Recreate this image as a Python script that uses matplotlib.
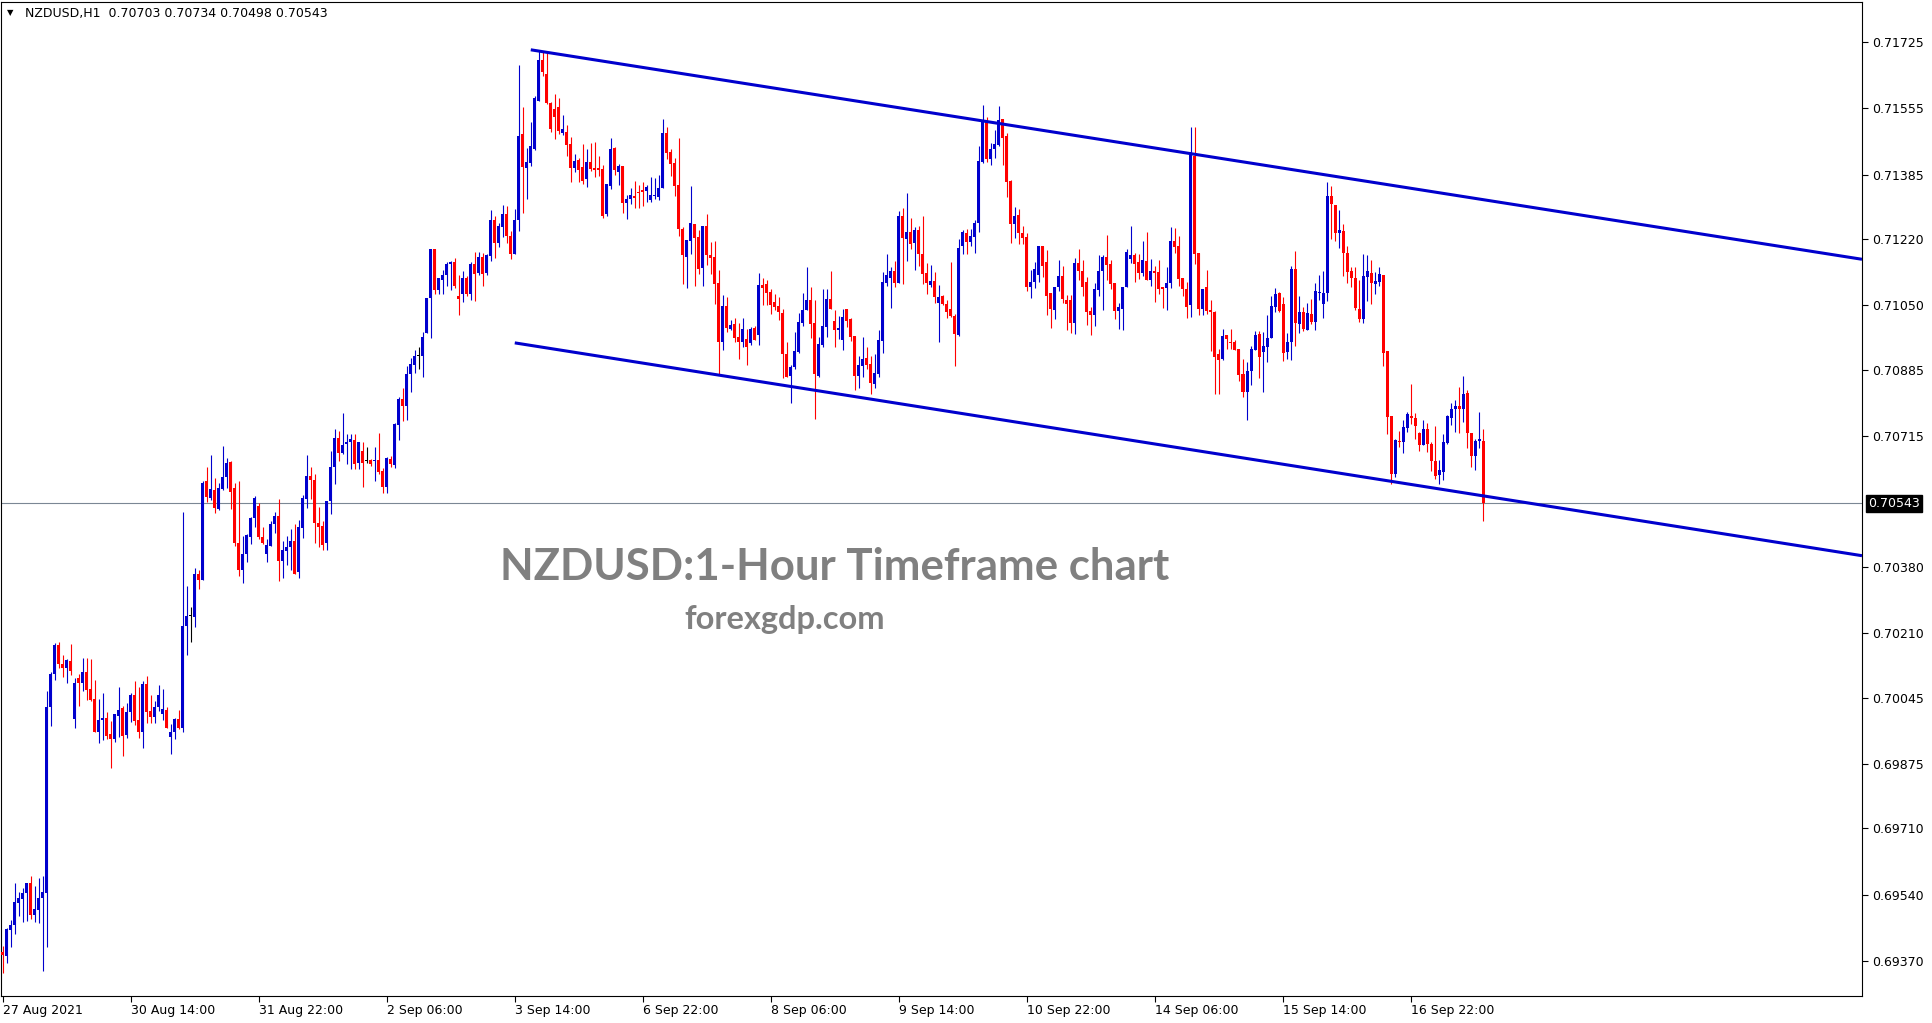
import numpy as np
import pandas as pd
import matplotlib
matplotlib.use("Agg")
import matplotlib.pyplot as plt
import matplotlib.transforms as mtransforms

# ---------------------------------------------------------------------------
# Chart data -- NZDUSD H1, prices in points (1 point = 0.00001)
# ---------------------------------------------------------------------------
symbol = "NZDUSD,H1"
first_bar = "2021-08-27 06:00"

opens = [
    69393, 69384, 69449, 69462, 69518, 69530, 69544, 69571, 69489, 69501,
    69532, 69544, 70020, 70105, 70179, 70131, 70121, 70139, 69990, 70094,
    70082, 70110, 70068, 70041, 69957, 69987, 69992, 69951, 69939, 69998,
    70018, 69949, 70009, 70052, 69987, 69958, 70079, 70010, 69995, 70020,
    70003, 70013, 69944, 69958, 69989, 69968, 70228, 70253, 70252, 70361,
    70346, 70599, 70556, 70576, 70528, 70579, 70609, 70648, 70582, 70442,
    70372, 70414, 70456, 70504, 70535, 70456, 70413, 70433, 70490, 70510,
    70395, 70421, 70431, 70446, 70367, 70480, 70555, 70612, 70602, 70493,
    70484, 70442, 70548, 70636, 70709, 70673, 70694, 70700, 70705, 70647,
    70678, 70652, 70654, 70650, 70654, 70625, 70584, 70656, 70640, 70743,
    70811, 70792, 70873, 70898, 70921, 70921, 70979, 71070, 71194, 71089,
    71115, 71127, 71156, 71162, 71074, 71080, 71120, 71079, 71156, 71133,
    71175, 71133, 71176, 71270, 71209, 71251, 71284, 71229, 71182, 71270,
    71489, 71401, 71416, 71452, 71575, 71679, 71644, 71568, 71553, 71558,
    71493, 71494, 71463, 71401, 71422, 71405, 71374, 71418, 71401, 71401,
    71399, 71284, 71357, 71453, 71392, 71406, 71313, 71322, 71330, 71341,
    71346, 71344, 71319, 71330, 71328, 71352, 71493, 71444, 71414, 71359,
    71246, 71175, 71216, 71259, 71226, 71147, 71254, 71179, 71175, 71108,
    70955, 71048, 70990, 71002, 70970, 70955, 70965, 70953, 70991, 70974,
    71102, 71105, 71085, 71060, 71049, 71031, 70926, 70870, 70891, 70931,
    71004, 71037, 71064, 71004, 70870, 70949, 70995, 71066, 71010, 70987,
    70961, 71041, 71015, 70972, 70870, 70895, 70914, 70900, 70849, 70874,
    70960, 71108, 71121, 71138, 71108, 71279, 71220, 71237, 71209, 71243,
    71183, 71134, 71102, 71113, 71055, 71074, 71053, 71041, 71024, 70974,
    71201, 71236, 71213, 71226, 71260, 71418, 71519, 71425, 71450, 71461,
    71527, 71484, 71370, 71258, 71281, 71235, 71225, 71098, 71111, 71129,
    71202, 71161, 71081, 71038, 71096, 71126, 71064, 71064, 71004, 71158,
    71139, 71110, 71036, 71026, 71090, 71137, 71175, 71156, 71107, 71036,
    71041, 71096, 71169, 71179, 71162, 71132, 71165, 71115, 71138, 71135,
    71096, 71094, 71107, 71214, 71202, 71120, 71092, 71050, 71434, 71184,
    71041, 71096, 71038, 71034, 70926, 70913, 70974, 70957, 70957, 70939,
    70874, 70827, 70882, 70936, 70976, 70930, 70943, 70966, 71047, 71081,
    71054, 70930, 70956, 71143, 71003, 71032, 70987, 71028, 71007, 71081,
    71054, 71083, 71330, 71307, 71236, 71241, 71185, 71138, 71121, 71041,
    71015, 71124, 71132, 71104, 71111, 71128, 70933, 70767, 70618, 70703,
    70701, 70737, 70767, 70761, 70724, 70692, 70732, 70695, 70651, 70615,
    70624, 70697, 70762, 70784, 70792, 70785, 70826, 70722, 70665, 70703,
    70703,
]

highs = [
    69409, 69454, 69475, 69570, 69548, 69557, 69571, 69587, 69561, 69582,
    69587, 70062, 70111, 70185, 70187, 70154, 70144, 70182, 70094, 70106,
    70146, 70146, 70144, 70090, 70041, 70057, 70008, 69984, 70002, 70072,
    70024, 70030, 70057, 70088, 70072, 70087, 70100, 70052, 70037, 70077,
    70066, 70020, 69977, 69992, 70012, 70520, 70332, 70276, 70377, 70372,
    70600, 70637, 70667, 70607, 70595, 70689, 70660, 70651, 70595, 70600,
    70458, 70463, 70509, 70561, 70543, 70483, 70452, 70497, 70520, 70554,
    70446, 70459, 70476, 70489, 70500, 70565, 70667, 70637, 70618, 70534,
    70497, 70548, 70677, 70734, 70729, 70774, 70720, 70720, 70720, 70699,
    70700, 70687, 70656, 70687, 70723, 70634, 70662, 70663, 70749, 70815,
    70839, 70895, 70915, 70935, 70944, 70983, 71070, 71195, 71195, 71120,
    71140, 71162, 71164, 71171, 71129, 71138, 71126, 71160, 71188, 71188,
    71184, 71182, 71294, 71279, 71262, 71308, 71306, 71240, 71297, 71665,
    71558, 71453, 71520, 71586, 71703, 71699, 71696, 71571, 71593, 71582,
    71537, 71513, 71481, 71437, 71427, 71463, 71452, 71465, 71468, 71434,
    71409, 71361, 71480, 71456, 71412, 71407, 71332, 71350, 71369, 71359,
    71366, 71359, 71378, 71377, 71385, 71527, 71506, 71450, 71427, 71480,
    71252, 71218, 71356, 71259, 71243, 71254, 71284, 71213, 71215, 71141,
    71077, 71072, 71013, 71017, 71004, 71017, 70990, 70994, 70996, 71134,
    71119, 71115, 71091, 71079, 71072, 71040, 70957, 70897, 70981, 71031,
    71081, 71149, 71098, 71064, 70970, 71091, 71091, 71138, 71038, 71023,
    71041, 71041, 71017, 70972, 70920, 70968, 70943, 70920, 70925, 70987,
    71136, 71181, 71149, 71164, 71292, 71300, 71337, 71275, 71252, 71253,
    71279, 71158, 71154, 71136, 71102, 71077, 71064, 71160, 71028, 71219,
    71243, 71245, 71245, 71269, 71458, 71564, 71532, 71466, 71500, 71560,
    71527, 71493, 71372, 71303, 71297, 71254, 71235, 71141, 71160, 71202,
    71202, 71192, 71083, 71098, 71167, 71150, 71077, 71077, 71171, 71195,
    71167, 71124, 71047, 71107, 71179, 71178, 71231, 71167, 71107, 71057,
    71098, 71194, 71254, 71184, 71182, 71215, 71238, 71169, 71150, 71167,
    71098, 71148, 71250, 71248, 71229, 71120, 71109, 71506, 71508, 71184,
    71092, 71141, 71064, 71036, 70938, 70989, 70974, 70989, 70962, 70939,
    70912, 70904, 70945, 70985, 70985, 70983, 71026, 71074, 71094, 71084,
    71071, 70980, 71151, 71190, 71073, 71047, 71056, 71066, 71107, 71128,
    71137, 71365, 71357, 71307, 71295, 71258, 71202, 71148, 71148, 71115,
    71182, 71179, 71166, 71136, 71148, 71128, 70933, 70767, 70707, 70728,
    70756, 70778, 70849, 70775, 70725, 70756, 70748, 70701, 70741, 70654,
    70720, 70769, 70799, 70808, 70842, 70869, 70832, 70722, 70707, 70778,
    70734,
]

lows = [
    69339, 69365, 69407, 69439, 69486, 69470, 69472, 69477, 69470, 69467,
    69344, 69405, 69973, 70091, 70122, 70098, 70083, 70102, 69968, 70023,
    70062, 70040, 70036, 69957, 69929, 69936, 69938, 69865, 69931, 69945,
    69896, 69942, 69982, 69975, 69942, 69917, 69980, 69981, 69981, 70010,
    69988, 69968, 69900, 69939, 69965, 69958, 70155, 70187, 70227, 70324,
    70346, 70546, 70551, 70518, 70525, 70576, 70582, 70529, 70433, 70357,
    70339, 70393, 70439, 70483, 70451, 70439, 70393, 70433, 70467, 70344,
    70351, 70385, 70372, 70362, 70352, 70453, 70532, 70555, 70442, 70430,
    70422, 70422, 70516, 70592, 70650, 70670, 70643, 70630, 70632, 70630,
    70584, 70647, 70639, 70601, 70617, 70568, 70570, 70637, 70634, 70705,
    70754, 70756, 70829, 70877, 70886, 70867, 70979, 70966, 71078, 71078,
    71078, 71100, 71089, 71094, 71026, 71058, 71074, 71065, 71061, 71129,
    71100, 71129, 71164, 71171, 71200, 71226, 71210, 71169, 71182, 71240,
    71286, 71322, 71407, 71447, 71573, 71639, 71565, 71494, 71476, 71490,
    71487, 71434, 71367, 71392, 71366, 71361, 71353, 71394, 71378, 71381,
    71275, 71279, 71348, 71385, 71359, 71286, 71272, 71310, 71300, 71300,
    71306, 71315, 71315, 71323, 71319, 71352, 71425, 71382, 71330, 71229,
    71105, 71095, 71182, 71101, 71130, 71100, 71154, 71130, 71054, 70872,
    70936, 70983, 70987, 70955, 70912, 70944, 70897, 70949, 70961, 70949,
    71051, 71051, 71027, 71038, 71013, 70863, 70867, 70801, 70887, 70929,
    70997, 71037, 70966, 70758, 70866, 70944, 70970, 71041, 70944, 70963,
    70937, 70995, 70960, 70832, 70839, 70867, 70886, 70823, 70838, 70867,
    70927, 71100, 71044, 71098, 71107, 71104, 71165, 71195, 71141, 71151,
    71105, 71080, 71096, 71055, 70957, 71051, 71017, 71021, 70895, 70972,
    71182, 71181, 71201, 71185, 71239, 71416, 71417, 71410, 71427, 71458,
    71410, 71329, 71211, 71224, 71208, 71208, 71087, 71070, 71094, 71111,
    71124, 71026, 70993, 71015, 71088, 71056, 70987, 70980, 70976, 71115,
    71075, 71000, 70973, 70998, 71074, 71038, 71115, 71092, 71015, 70990,
    70986, 71096, 71158, 71109, 71117, 71126, 71115, 71100, 71060, 71079,
    71044, 71038, 71094, 71184, 71101, 71075, 71017, 71020, 71156, 71025,
    71025, 71028, 70932, 70822, 70822, 70910, 70939, 70938, 70936, 70857,
    70816, 70757, 70846, 70936, 70863, 70827, 70906, 70966, 71034, 71034,
    70908, 70912, 70909, 70945, 70980, 70985, 70986, 71002, 70986, 71064,
    71017, 71062, 71219, 71216, 71198, 71126, 71107, 71098, 71038, 71008,
    71006, 71062, 71054, 71078, 71101, 70896, 70720, 70592, 70611, 70688,
    70673, 70726, 70745, 70707, 70678, 70691, 70674, 70626, 70604, 70592,
    70603, 70695, 70744, 70726, 70724, 70750, 70685, 70637, 70628, 70684,
    70498,
]

closes = [
    69386, 69451, 69463, 69520, 69532, 69545, 69571, 69487, 69502, 69532,
    69547, 70020, 70105, 70179, 70132, 70122, 70141, 70113, 70082, 70082,
    70110, 70065, 70038, 69957, 69987, 69992, 69947, 69939, 70002, 70014,
    69947, 70009, 70052, 69984, 69958, 70080, 70009, 69994, 70020, 70052,
    70015, 69968, 69958, 69989, 69968, 70228, 70253, 70253, 70361, 70346,
    70596, 70558, 70579, 70530, 70582, 70610, 70646, 70572, 70442, 70372,
    70414, 70461, 70504, 70556, 70456, 70441, 70435, 70491, 70510, 70395,
    70422, 70431, 70446, 70362, 70481, 70556, 70612, 70602, 70493, 70483,
    70436, 70548, 70636, 70711, 70673, 70693, 70700, 70708, 70643, 70699,
    70647, 70652, 70643, 70654, 70624, 70584, 70658, 70643, 70745, 70811,
    70792, 70875, 70899, 70921, 70921, 70968, 71070, 71194, 71089, 71120,
    71129, 71156, 71162, 71100, 71067, 71119, 71079, 71157, 71131, 71173,
    71131, 71180, 71268, 71209, 71253, 71285, 71228, 71182, 71270, 71485,
    71405, 71417, 71458, 71582, 71679, 71649, 71568, 71503, 71534, 71498,
    71502, 71460, 71401, 71421, 71397, 71368, 71418, 71400, 71398, 71398,
    71279, 71361, 71450, 71396, 71407, 71313, 71322, 71334, 71326, 71337,
    71341, 71353, 71332, 71332, 71352, 71493, 71441, 71412, 71356, 71246,
    71178, 71218, 71260, 71224, 71143, 71254, 71178, 71172, 71105, 70957,
    71048, 70991, 71000, 70967, 70957, 70990, 70944, 70990, 70961, 71102,
    71095, 71083, 71051, 71047, 71034, 70926, 70867, 70893, 70933, 71008,
    71038, 71064, 71002, 70874, 70951, 70997, 71066, 71041, 70987, 70993,
    71021, 71010, 70968, 70870, 70897, 70913, 70897, 70850, 70876, 70961,
    71109, 71128, 71138, 71108, 71279, 71222, 71237, 71207, 71243, 71183,
    71131, 71107, 71113, 71072, 71071, 71054, 71034, 71023, 70977, 71198,
    71237, 71213, 71229, 71262, 71420, 71525, 71425, 71451, 71464, 71525,
    71480, 71367, 71259, 71279, 71235, 71224, 71096, 71111, 71143, 71202,
    71152, 71075, 71040, 71098, 71126, 71067, 71054, 71004, 71158, 71139,
    71098, 71034, 71026, 71092, 71138, 71173, 71154, 71104, 71036, 71047,
    71098, 71188, 71179, 71156, 71132, 71167, 71115, 71138, 71132, 71092,
    71091, 71107, 71214, 71199, 71118, 71092, 71047, 71443, 71182, 71042,
    71092, 71036, 71032, 70917, 70909, 70972, 70964, 70953, 70936, 70872,
    70829, 70882, 70939, 70974, 70919, 70945, 70966, 71049, 71080, 71036,
    70929, 70956, 71144, 71004, 71034, 70990, 71030, 71007, 71087, 71085,
    71083, 71330, 71309, 71236, 71243, 71185, 71136, 71119, 71044, 71015,
    71125, 71138, 71107, 71113, 71130, 70927, 70765, 70618, 70705, 70701,
    70738, 70772, 70761, 70742, 70691, 70732, 70695, 70650, 70614, 70628,
    70699, 70767, 70785, 70791, 70784, 70823, 70722, 70665, 70703, 70707,
    70543,
]

# price scale labels as printed on the MT4 axis
price_ticks = [0.71725, 0.71555, 0.71385, 0.71220, 0.71050, 0.70885, 0.70715,
               0.70380, 0.70210, 0.70045, 0.69875, 0.69710, 0.69540, 0.69370]
label_every = 32          # bars between time labels

# channel trend lines: (bar index, price) anchors, drawn as rays to the right
upper_channel = [(132, 0.71705), (370, 0.71321)]
lower_channel = [(128, 0.70954), (370, 0.70562)]

title_text = "NZDUSD:1-Hour Timeframe chart"
site_text = "forexgdp.com"

# ---------------------------------------------------------------------------
# Styling
# ---------------------------------------------------------------------------
BULL = "#0000CD"
BEAR = "#FF0000"
DOJI = "#000000"
CHANNEL = "#0000CD"
PRICE_LINE = "#7b8794"
WATERMARK = "#808080"

W, H = 1933, 1023
fig = plt.figure(figsize=(W / 100, H / 100), dpi=100, facecolor="white")
ax = fig.add_axes([1 / W, 27 / H, 1861 / W, 994 / H])

o = np.array(opens) / 1e5
h = np.array(highs) / 1e5
l = np.array(lows) / 1e5
c = np.array(closes) / 1e5
x = np.arange(len(c))

y_lo, y_hi = 0.692803, 0.718275
x_lo, x_hi = -0.4, 464.7
one_px = (y_hi - y_lo) / 994

colors = np.where(c > o, BULL, np.where(c < o, BEAR, DOJI))

# --- current price line (behind the bars) ---
last_price = c[-1]
ax.axhline(last_price, color=PRICE_LINE, linewidth=0.8, zorder=1)

# --- candles ---
ax.vlines(x, l, h, colors=colors, linewidth=0.8, zorder=2)
ax.bar(x, np.maximum(np.abs(c - o), one_px), bottom=np.minimum(o, c),
       width=0.75, color=colors, linewidth=0, zorder=3)

# --- channel rays ---
for (x0, p0), (x1, p1) in (upper_channel, lower_channel):
    slope = (p1 - p0) / (x1 - x0)
    ax.plot([x0, x_hi], [p0, p0 + slope * (x_hi - x0)],
            color=CHANNEL, linewidth=2.2, solid_capstyle="butt", zorder=4)

ax.set_xlim(x_lo, x_hi)
ax.set_ylim(y_lo, y_hi)

# --- time axis labels from bar timestamps ---
times = pd.date_range(first_bar, periods=24 * 40, freq="h")
times = times[times.dayofweek < 5][:len(c)]
tick_idx = np.arange(0, len(c), label_every)
tick_lbl = []
for k, i in enumerate(tick_idx):
    t = times[i]
    if k == 0:
        tick_lbl.append(f"{t.day} {t:%b %Y}")
    else:
        tick_lbl.append(f"{t.day} {t:%b %H:%M}")
ax.set_xticks(tick_idx)
ax.set_xticklabels(tick_lbl, ha="left")
ax.tick_params(axis="x", direction="out", length=4, width=0.8, pad=2,
               labelsize=9, colors="black")

# --- price axis ---
ax.yaxis.tick_right()
ax.set_yticks(price_ticks)
ax.set_yticklabels([f"{p:.5f}" for p in price_ticks])
ax.tick_params(axis="y", direction="out", length=4, width=0.8, pad=3,
               labelsize=9, colors="black")

for sp in ax.spines.values():
    sp.set_linewidth(0.8)
    sp.set_color("black")

# current price tag on the axis
trans = mtransforms.blended_transform_factory(ax.transAxes, ax.transData)
ax.text(1.0 + 6 / 1861, last_price, f"{last_price:.5f}", transform=trans,
        ha="left", va="center", fontsize=9, color="white",
        bbox=dict(boxstyle="square,pad=0.18", fc="black", ec="black"))

# --- header ---
fig.text(7 / W, 1 - 13 / H, "\u25BC", fontsize=6, va="center", ha="left")
fig.text(25 / W, 1 - 13 / H,
         f"{symbol}  {o[-1]:.5f} {h[-1]:.5f} {l[-1]:.5f} {c[-1]:.5f}",
         fontsize=9, va="center", ha="left")

# --- watermark texts ---
fig.text(835 / W, 1 - 567 / H, title_text, fontsize=31.5, fontweight="bold",
         family=["Lato", "DejaVu Sans"], color=WATERMARK,
         ha="center", va="center")
fig.text(785 / W, 1 - 620 / H, site_text, fontsize=23.5, fontweight="bold",
         family=["Lato", "DejaVu Sans"], color=WATERMARK,
         ha="center", va="center")

fig.savefig("out.png", dpi=100, facecolor="white")
